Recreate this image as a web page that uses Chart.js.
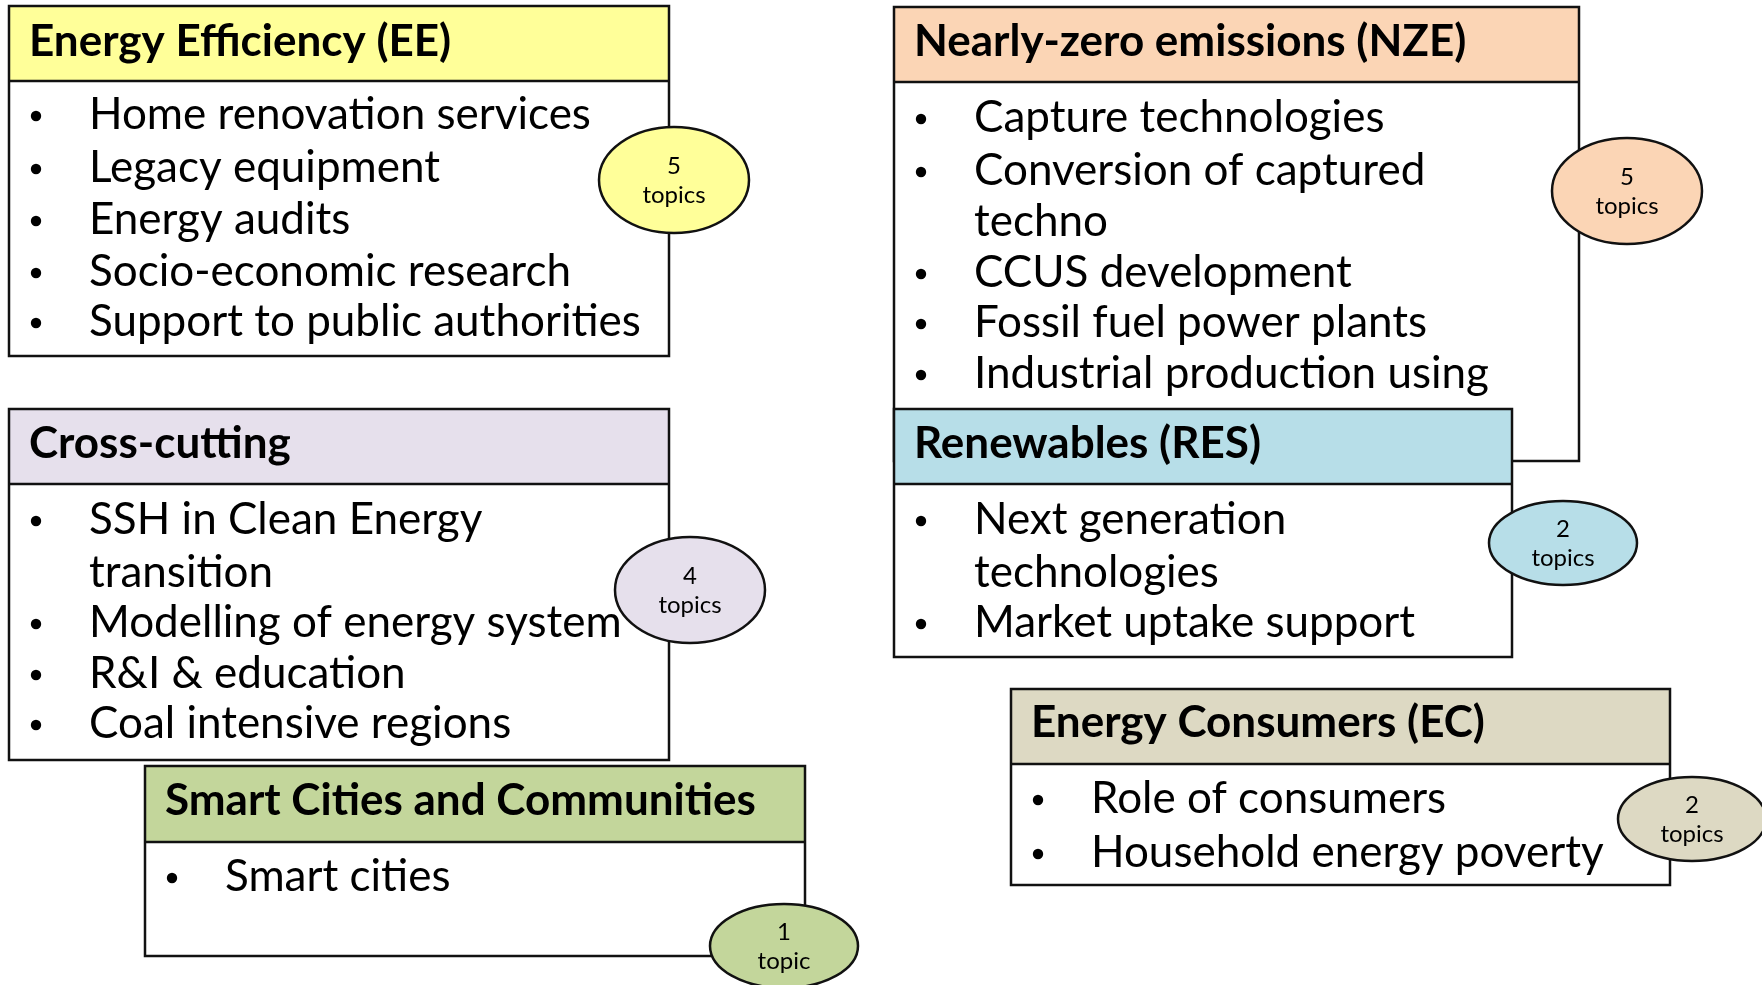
<!DOCTYPE html>
<html><head><meta charset="utf-8">
<script src="https://cdn.jsdelivr.net/npm/chart.js@4.4.0/dist/chart.umd.min.js"></script>
<style>html,body{margin:0;padding:0;background:#fff;overflow:hidden}canvas{display:block}</style>
</head><body>
<canvas id="c" width="1762" height="985"></canvas>
<script>
// ---- content ----
const groups = ["Energy Efficiency (EE)", "Cross-cutting", "Smart Cities and Communities",
                "Nearly-zero emissions (NZE)", "Renewables (RES)", "Energy Consumers (EC)"];
const itemsEE  = [["Home renovation services"], ["Legacy equipment"], ["Energy audits"], ["Socio-economic research"], ["Support to public authorities"]];
const itemsCC  = [["SSH in Clean Energy", "transition"], ["Modelling of energy system"], ["R&I & education"], ["Coal intensive regions"]];
const itemsSC  = [["Smart cities"]];
const itemsNZE = [["Capture technologies"], ["Conversion of captured", "techno"], ["CCUS development"], ["Fossil fuel power plants"], ["Industrial production using"]];
const itemsRES = [["Next generation", "technologies"], ["Market uptake support"]];
const itemsEC  = [["Role of consumers"], ["Household energy poverty"]];
const items = [itemsEE, itemsCC, itemsSC, itemsNZE, itemsRES, itemsEC];
const topicCounts = [5, 4, 1, 5, 2, 2];

// ---- styles ----
const headerColors = ["#FFFF99", "#E6E0EC", "#C3D69B", "#FBD5B5", "#B7DEE8", "#DDD9C3"];

// ---- layout (value space = 0..1762 x 0..985) ----
const boxLeft   = [9, 9, 145, 894, 894, 1011];
const boxRight  = [669, 669, 805, 1579, 1512, 1670];
const boxTop    = [6, 409, 766, 7, 409, 689];
const headBot   = [81, 484, 842, 82, 484, 764];
const boxBottom = [356, 760, 956, 461, 657, 885];
const titleY    = [42, 444, 801, 42, 444, 723];
const lineY = [
  [115, 168, 220, 272, 322],
  [520, 573, 623, 674, 724],
  [877],
  [118, 171, 222, 273, 323, 374],
  [520, 573, 623],
  [799, 853]
];
const bubbleX  = [674, 690, 784, 1627, 1563, 1692];
const bubbleY  = [180, 590, 946, 191, 543, 819];
const bubbleRX = [75, 75, 74, 75, 74, 74];
const bubbleRY = [53, 53, 42, 53, 42, 42];

const FONT = "Lato, 'Open Sans', sans-serif";

const diagramPlugin = {
  id: 'diagram',
  afterDatasetsDraw(chart) {
    const ctx = chart.ctx, xs = chart.scales.x, ys = chart.scales.y;
    const px = v => xs.getPixelForValue(v), py = v => ys.getPixelForValue(v);
    ctx.save();
    ctx.lineJoin = 'miter';
    for (let g = 0; g < groups.length; g++) {
      const L = px(boxLeft[g]), R = px(boxRight[g]), T = py(boxTop[g]), H = py(headBot[g]), B = py(boxBottom[g]);
      ctx.fillStyle = '#ffffff';
      ctx.fillRect(L, T, R - L, B - T);
      ctx.fillStyle = headerColors[g];
      ctx.fillRect(L, T, R - L, H - T);
      ctx.strokeStyle = '#111';
      ctx.lineWidth = 2.5;
      ctx.strokeRect(L, T, R - L, B - T);
      ctx.beginPath(); ctx.moveTo(L, H); ctx.lineTo(R, H); ctx.stroke();
      // title
      ctx.fillStyle = '#000';
      ctx.textBaseline = 'middle';
      ctx.textAlign = 'left';
      ctx.font = "bold 44px " + FONT;
      ctx.fillText(groups[g], L + 20, py(titleY[g]));
      // items
      ctx.font = "44px " + FONT;
      let k = 0;
      for (const it of items[g]) {
        for (let j = 0; j < it.length; j++) {
          const y = py(lineY[g][k]);
          if (j === 0) {
            ctx.beginPath();
            ctx.arc(L + 27, y + 1, 5.2, 0, Math.PI * 2);
            ctx.fill();
          }
          ctx.fillText(it[j], L + 80, y);
          k++;
        }
      }
    }
    // bubbles
    const meta = chart.getDatasetMeta(0);
    for (let i = 0; i < topicCounts.length; i++) {
      const pt = meta.data[i];
      const cx = pt.x, cy = pt.y;
      const rx = px(bubbleX[i] + bubbleRX[i]) - cx, ry = py(bubbleY[i] + bubbleRY[i]) - cy;
      ctx.beginPath();
      ctx.ellipse(cx, cy, rx, Math.abs(ry), 0, 0, Math.PI * 2);
      ctx.fillStyle = headerColors[i];
      ctx.fill();
      ctx.lineWidth = 2.5;
      ctx.strokeStyle = '#111';
      ctx.stroke();
      ctx.fillStyle = '#000';
      ctx.textAlign = 'center';
      ctx.textBaseline = 'middle';
      ctx.font = "24px " + FONT;
      ctx.fillText(String(topicCounts[i]), cx, cy - 14);
      ctx.fillText(topicCounts[i] === 1 ? "topic" : "topics", cx, cy + 15);
    }
    ctx.restore();
  }
};

new Chart(document.getElementById('c'), {
  type: 'scatter',
  data: {
    datasets: [{
      label: 'topics',
      data: topicCounts.map((n, i) => ({ x: bubbleX[i], y: bubbleY[i] })),
      pointRadius: 0
    }]
  },
  options: {
    responsive: false,
    animation: false,
    events: [],
    layout: { padding: 0 },
    plugins: { legend: { display: false }, tooltip: { enabled: false } },
    scales: {
      x: { type: 'linear', min: 0, max: 1762, display: false },
      y: { type: 'linear', min: 0, max: 985, reverse: true, display: false }
    }
  },
  plugins: [diagramPlugin]
});
</script>
</body></html>
